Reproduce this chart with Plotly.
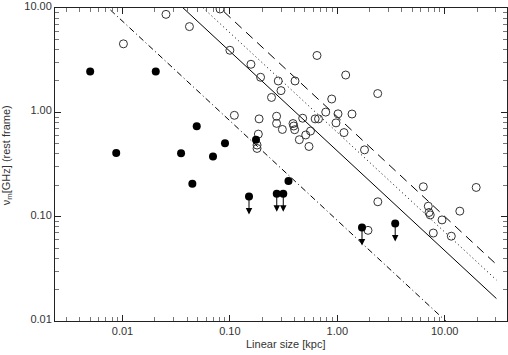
import numpy as np
import plotly.graph_objects as go

# ---------------- data ----------------
# open circles: linear size [kpc], turnover frequency [GHz]
open_size = [0.0102, 0.0254, 0.042, 0.0809, 0.100, 0.157, 0.193, 0.110, 0.187, 0.184,
             0.179, 0.179, 0.244, 0.282, 0.404, 0.299, 0.272, 0.272, 0.308, 0.387,
             0.393, 0.401, 0.476, 0.622, 0.668, 0.563, 0.508, 0.443, 0.545, 0.780,
             1.015, 1.37, 0.972, 1.154, 0.887, 0.647, 1.197, 2.378, 1.792, 2.384,
             1.931, 6.32, 7.03, 7.14, 7.33, 9.44, 7.83, 11.52, 13.82, 19.64]
open_freq = [4.54, 8.7, 6.64, 9.79, 3.94, 2.89, 2.17, 0.937, 0.866, 0.619,
             0.486, 0.451, 1.39, 2.00, 2.00, 1.616, 0.918, 0.784, 0.686, 0.781,
             0.740, 0.682, 0.879, 0.866, 0.866, 0.662, 0.607, 0.547, 0.471, 1.006,
             0.968, 0.964, 0.793, 0.640, 1.343, 3.51, 2.28, 1.515, 0.437, 0.139,
             0.074, 0.1936, 0.126, 0.1097, 0.104, 0.0931, 0.0697, 0.0650, 0.113, 0.1907]

# filled circles (detections)
det_size = [0.0050, 0.0204, 0.00874, 0.0351, 0.0491, 0.0696, 0.090, 0.175, 0.0447, 0.351]
det_freq = [2.46, 2.47, 0.408, 0.405, 0.737, 0.377, 0.506, 0.547, 0.207, 0.220]

# filled circles with upper-limit arrows
lim_size = [0.1506, 0.273, 0.314, 1.698, 3.46]
lim_freq = [0.156, 0.166, 0.166, 0.0789, 0.086]

# reference relations: log(nu) = intercept + slope * log(LS)
rel_slope = -0.955
rel_intercepts = [-0.370, -0.192, -0.043, -1.036]
rel_size_limits = [0.001, 30.3]

# tick labels
tick_vals = [0.01, 0.1, 1, 10]
tick_text = ["0.01", "0.10", "1.00", "10.00"]

# ---------------- styles ----------------
rel_dashes = ["solid", "1px,3px", "9px,6px", "6px,3px,1px,3px"]
arrow_factor = 0.672
FONT = "Liberation Sans, Arial, sans-serif"
TXT = "#333333"

fig = go.Figure()

xs = np.logspace(np.log10(rel_size_limits[0]), np.log10(rel_size_limits[1]), 2)
for a, d in zip(rel_intercepts, rel_dashes):
    ys = 10 ** (a + rel_slope * np.log10(xs))
    fig.add_trace(go.Scatter(x=xs, y=ys, mode="lines",
                             line=dict(color="black", width=1, dash=d),
                             hoverinfo="skip", showlegend=False))

fig.add_trace(go.Scatter(x=open_size, y=open_freq, mode="markers",
                         marker=dict(symbol="circle-open", size=8, color="#333333",
                                     line=dict(width=1, color="#333333")),
                         showlegend=False))
fig.add_trace(go.Scatter(x=det_size, y=det_freq, mode="markers",
                         marker=dict(symbol="circle", size=8, color="black"),
                         showlegend=False))
fig.add_trace(go.Scatter(x=lim_size, y=lim_freq, mode="markers",
                         marker=dict(symbol="circle", size=8, color="black"),
                         showlegend=False))

annotations = []
for sx, sy in zip(lim_size, lim_freq):
    annotations.append(dict(
        x=np.log10(sx), y=np.log10(sy * arrow_factor),
        ax=np.log10(sx), ay=np.log10(sy),
        xref="x", yref="y", axref="x", ayref="y",
        text="", showarrow=True, arrowhead=2, arrowsize=1.3,
        arrowwidth=1, arrowcolor="black", standoff=0, startstandoff=0))

annotations.append(dict(text="Linear size [kpc]", x=0.51, y=-0.075,
                        xref="paper", yref="paper", yanchor="middle", showarrow=False,
                        font=dict(family=FONT, size=11, color=TXT)))
annotations.append(dict(text="ν<sub>m</sub>[GHz] (rest frame)", x=-0.106, y=0.53,
                        xref="paper", yref="paper", xanchor="center", yanchor="middle",
                        showarrow=False, textangle=-90,
                        font=dict(family=FONT, size=11, color=TXT)))

def minor_vals(lo, hi):
    v = []
    for e in range(lo, hi):
        for m in range(2, 10):
            v.append(m * 10.0 ** e)
    return v

axis_common = dict(
    type="log", showgrid=False, zeroline=False,
    showline=True, linecolor="#222222", linewidth=1, mirror="allticks",
    ticks="inside", ticklen=6, tickwidth=1, tickcolor="#222222",
    tickvals=tick_vals, ticktext=tick_text, ticklabeloverflow="allow",
    tickfont=dict(family=FONT, size=11, color=TXT),
)

fig.update_xaxes(**axis_common, range=[-2.6285, 1.580],
                 minor=dict(tickvals=minor_vals(-3, 2), ticks="inside", ticklen=4,
                            tickcolor="#777777", showgrid=False))
fig.update_yaxes(**axis_common, range=[-2.0, 1.0005], ticklabelshift=-2,
                 minor=dict(tickvals=minor_vals(-2, 1), ticks="inside", ticklen=4,
                            tickcolor="#777777", showgrid=False))

fig.update_layout(
    width=508, height=355,
    margin=dict(l=55, r=1, t=0, b=34),
    paper_bgcolor="white", plot_bgcolor="white",
    annotations=annotations,
    showlegend=False,
)

fig.write_html("out.html",
               config={"displayModeBar": False},
               post_script="document.body.style.margin='0';"
                           "document.body.style.overflow='hidden';")
